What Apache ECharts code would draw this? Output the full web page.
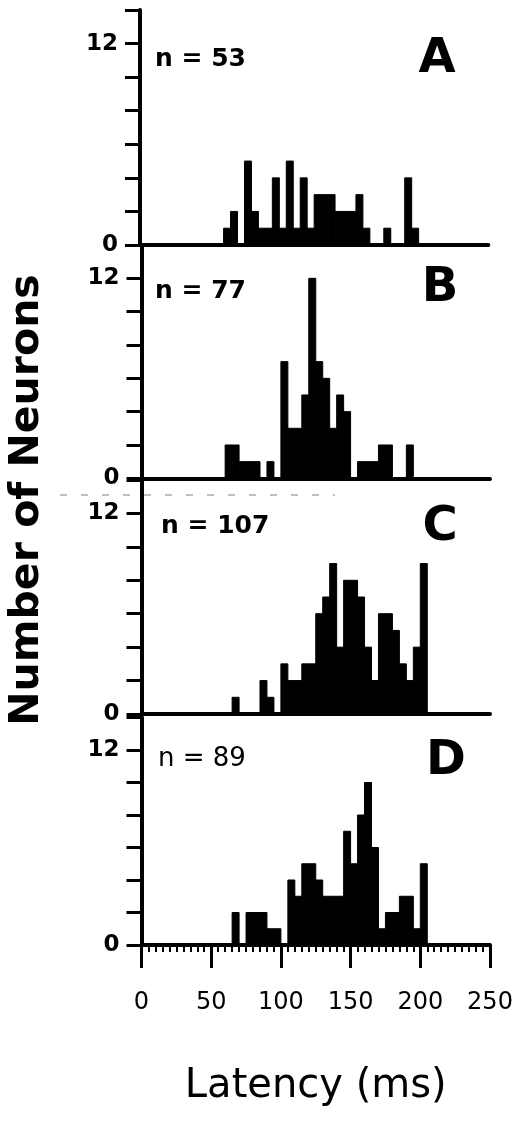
<!DOCTYPE html>
<html>
<head>
<meta charset="utf-8">
<script src="https://cdn.jsdelivr.net/npm/echarts@6/dist/echarts.min.js"></script>
<style>
  html, body { margin: 0; padding: 0; background: #fff; }
  #chart { width: 518px; height: 1122px; }
</style>
</head>
<body>
<div id="chart"></div>
<script>
// latency bins, 5 ms wide, start values
var binStarts = [60, 65, 70, 75, 80, 85, 90, 95, 100, 105, 110, 115, 120, 125, 130,
                 135, 140, 145, 150, 155, 160, 165, 170, 175, 180, 185, 190, 195, 200];
var binWidth = 5;

var countsA = [1, 2, 0, 5, 2, 1, 1, 4, 1, 5, 1, 4, 1, 3, 3, 3, 2, 2, 2, 3, 1, 0, 0, 1, 0, 0, 4, 1, 0];
var countsB = [2, 2, 1, 1, 1, 0, 1, 0, 7, 3, 3, 5, 12, 7, 6, 3, 5, 4, 0, 1, 1, 1, 2, 2, 0, 0, 2, 0, 0];
var countsC = [0, 1, 0, 0, 0, 2, 1, 0, 3, 2, 2, 3, 3, 6, 7, 9, 4, 8, 8, 7, 4, 2, 6, 6, 5, 3, 2, 4, 9];
var countsD = [0, 2, 0, 2, 2, 2, 1, 1, 0, 4, 3, 5, 5, 4, 3, 3, 3, 7, 5, 8, 10, 6, 1, 2, 2, 3, 3, 1, 5];

var panelLetters = ['A', 'B', 'C', 'D'];
var panelN = ['n = 53', 'n = 77', 'n = 107', 'n = 89'];
var xTicks = [0, 50, 100, 150, 200, 250];

var font = '"DejaVu Sans", "Liberation Sans", Arial, sans-serif';

var myChart = echarts.init(document.getElementById('chart'));

var panels = [countsA, countsB, countsC, countsD];
// grid boxes (px)
var boxes = [
  { left: 140, width: 348.3, top: 10, height: 235 },
  { left: 141.5, width: 348.5, top: 245, height: 233.3 },
  { left: 141.5, width: 348.5, top: 480, height: 234 },
  { left: 141.5, width: 348.5, top: 717.5, height: 227.5 }
];

function renderBars(params, api) {
  var start = api.value(0);
  var count = api.value(1);
  if (!count) return;
  var p0 = api.coord([start, 0]);
  var p1 = api.coord([start + binWidth, count]);
  return {
    type: 'rect',
    shape: { x: p0[0], y: p1[1], width: p1[0] - p0[0], height: p0[1] - p1[1] },
    style: { fill: '#000', stroke: '#000', lineWidth: 1 }
  };
}

var grids = [], xAxes = [], yAxes = [], series = [];
panels.forEach(function (counts, i) {
  var last = i === panels.length - 1;
  grids.push(boxes[i]);
  xAxes.push({
    type: 'value',
    gridIndex: i,
    min: 0,
    max: 250,
    interval: 50,
    axisLine: { show: true, onZero: false, lineStyle: { color: '#000', width: 4 } },
    axisTick: { show: last, length: 23, lineStyle: { color: '#000', width: 3 } },
    minorTick: { show: last, splitNumber: 10, length: 7, lineStyle: { color: '#000', width: 2 } },
    axisLabel: { show: last, margin: 46, color: '#000', fontSize: 24, fontFamily: font },
    splitLine: { show: false },
    name: last ? 'Latency (ms)' : '',
    nameLocation: 'middle',
    nameGap: 122,
    nameTextStyle: { color: '#000', fontSize: 40, fontFamily: font }
  });
  yAxes.push({
    type: 'value',
    gridIndex: i,
    min: 0,
    max: 14,
    interval: 2,
    axisLine: { show: true, lineStyle: { color: '#000', width: 4 } },
    axisTick: { show: true, length: 15, lineStyle: { color: '#000', width: 3 } },
    axisLabel: {
      margin: 22, color: '#000', fontSize: 23, fontWeight: 'bold', fontFamily: font,
      formatter: function (v) { return (v === 0 || v === 12) ? String(v) : ''; }
    },
    splitLine: { show: false }
  });
  series.push({
    type: 'custom',
    xAxisIndex: i,
    yAxisIndex: i,
    renderItem: renderBars,
    encode: { x: 0, y: 1 },
    data: binStarts.map(function (b, k) { return [b, counts[k]]; })
  });
});

var nPos = [[155, 59], [155, 291], [161, 526], [158, 759]];
var letterPos = [[437, 60], [440, 289], [440, 528], [446, 762]];
var graphics = [];
panelN.forEach(function (t, i) {
  graphics.push({
    type: 'text', x: nPos[i][0], y: nPos[i][1],
    style: {
      text: t, fill: '#000', align: 'left', verticalAlign: 'middle',
      textAlign: 'left', textVerticalAlign: 'middle',
      font: (i === 3 ? 'normal 26px ' : 'bold 25px ') + font
    }
  });
  graphics.push({
    type: 'text', x: letterPos[i][0], y: letterPos[i][1],
    style: {
      text: panelLetters[i], fill: '#000', align: 'center', verticalAlign: 'middle',
      textAlign: 'center', textVerticalAlign: 'middle',
      font: 'bold 48px ' + font
    }
  });
});
graphics.push({
  type: 'text', x: 27, y: 500, rotation: Math.PI / 2,
  style: {
    text: 'Number of Neurons', fill: '#000', align: 'center', verticalAlign: 'middle',
    textAlign: 'center', textVerticalAlign: 'middle',
    font: 'bold 41px ' + font
  }
});
// faint dashed scan line between B and C
graphics.push({
  type: 'line',
  shape: { x1: 60, y1: 495, x2: 335, y2: 495 },
  style: { stroke: '#aaa', lineWidth: 1.5, lineDash: [7, 14] },
  z: -1
});

var option = {
  backgroundColor: '#fff',
  animation: false,
  grid: grids,
  xAxis: xAxes,
  yAxis: yAxes,
  series: series,
  graphic: graphics
};

myChart.setOption(option);
</script>
</body>
</html>
